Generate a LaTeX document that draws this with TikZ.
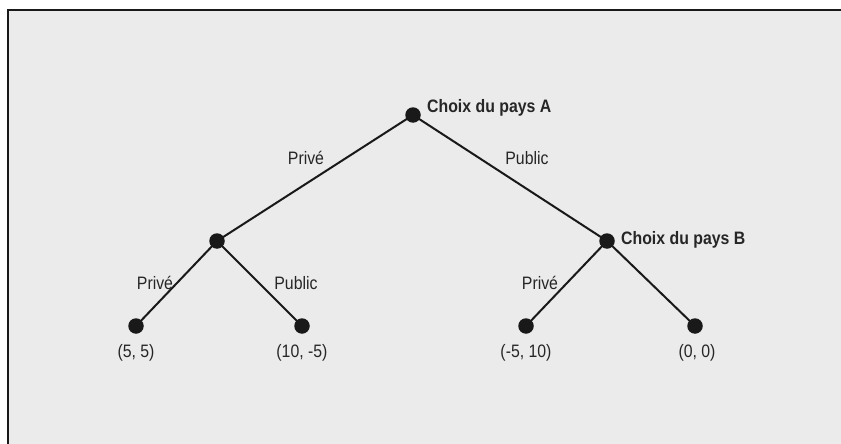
\documentclass[tikz,border=0pt]{standalone}
\usepackage{fontspec}
\setmainfont{Liberation Sans}[FakeStretch=0.88]
\begin{document}
\begin{tikzpicture}[x=1pt,y=-1pt,
  dot/.style={circle,fill=black!90,inner sep=0pt,minimum size=15.5pt},
  edge/.style={line width=2pt,draw=black!90},
  lab/.style={font=\fontsize{18}{21}\selectfont,text=black!85,inner sep=0pt},
  blab/.style={font=\fontsize{18}{21}\selectfont\bfseries,text=black!85,inner sep=0pt,anchor=west}]
\useasboundingbox (0,0) rectangle (841,444);
\fill[white] (0,0) rectangle (841,444);
\fill[black!8] (8,10) rectangle (841,444);
\draw[line width=2.5pt,black!90] (8,444) -- (8,10) -- (841,10);
\node[dot] (a) at (413,115) {};
\node[dot] (l) at (217,241) {};
\node[dot] (b) at (607,241) {};
\node[dot] (ll) at (136,326) {};
\node[dot] (lr) at (302,326) {};
\node[dot] (rl) at (526,326) {};
\node[dot] (rr) at (695,326) {};
\draw[edge] (a.center) -- (l.center);
\draw[edge] (a.center) -- (b.center);
\draw[edge] (l.center) -- (ll.center);
\draw[edge] (l.center) -- (lr.center);
\draw[edge] (b.center) -- (rl.center);
\draw[edge] (b.center) -- (rr.center);
\node[blab] (ta) at (427,108) {Choix du pays A};
\node[blab] (tb) at (621,240) {Choix du pays B};
\node[lab] (e1) at (306,158) {Privé};
\node[lab] (e2) at (527,158) {Public};
\node[lab] (e3) at (155,283) {Privé};
\node[lab] (e4) at (296,283) {Public};
\node[lab] (e5) at (540,283) {Privé};
\node[lab] (p1) at (136,353) {(5, 5)};
\node[lab] (p2) at (302,353) {(10, -5)};
\node[lab] (p3) at (526,353) {(-5, 10)};
\node[lab] (p4) at (697,353) {(0, 0)};
\end{tikzpicture}
\end{document}
